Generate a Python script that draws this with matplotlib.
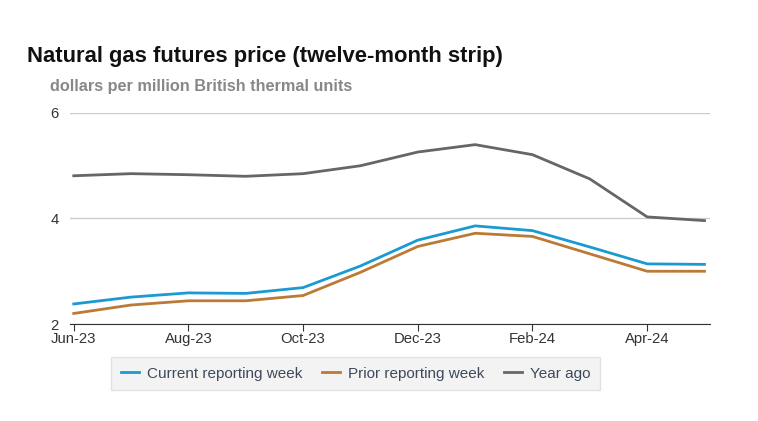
import matplotlib
matplotlib.use('Agg')
import matplotlib.pyplot as plt
import numpy as np

# Data (twelve-month strip, $/MMBtu)
months = ['Jun-23', 'Jul-23', 'Aug-23', 'Sep-23', 'Oct-23', 'Nov-23',
          'Dec-23', 'Jan-24', 'Feb-24', 'Mar-24', 'Apr-24', 'May-24']
current_week = [2.38, 2.51, 2.59, 2.58, 2.69, 3.10, 3.59, 3.86, 3.77, 3.46, 3.14, 3.13]
prior_week = [2.20, 2.36, 2.44, 2.44, 2.54, 2.98, 3.47, 3.72, 3.66, 3.33, 3.00, 3.00]
year_ago = [4.81, 4.85, 4.83, 4.80, 4.85, 5.00, 5.26, 5.40, 5.21, 4.75, 4.03, 3.96]
series_names = ['Current reporting week', 'Prior reporting week', 'Year ago']
y_ticks = [2, 4, 6]

plt.rcParams['font.family'] = ['Liberation Sans', 'DejaVu Sans']

fig = plt.figure(figsize=(7.58, 4.21), dpi=100)
ax = fig.add_axes([0.092, 0.2304, 0.845, 0.5012])

x = np.arange(len(months))
ax.plot(x, current_week, color='#1b9ad2', lw=2, label=series_names[0])
ax.plot(x, prior_week, color='#bb7a35', lw=2, label=series_names[1])
ax.plot(x, year_ago, color='#666666', lw=2, label=series_names[2])

ax.set_xlim(-0.07, 11.1)
ax.set_ylim(2, 6)
ax.set_yticks(y_ticks)
ax.set_xticks(x[::2])
ax.set_xticklabels(months[::2])
ax.grid(axis='y', color='#cccccc', lw=1)
ax.set_axisbelow(True)
for s in ['top', 'right', 'left']:
    ax.spines[s].set_visible(False)
ax.spines['bottom'].set_color('#333333')
ax.tick_params(axis='y', length=0, labelsize=10.7, labelcolor='#333333', pad=8)
ax.tick_params(axis='x', length=5, color='#333333', labelsize=10.7, labelcolor='#333333', pad=1)

fig.text(0.036, 0.865, 'Natural gas futures price (twelve-month strip)',
         fontsize=15.8, fontweight='bold', color='#111111', va='center')
fig.text(0.066, 0.795, 'dollars per million British thermal units',
         fontsize=11.7, fontweight='bold', color='#888888', va='center')

leg = fig.legend(loc='center', bbox_to_anchor=(0.469, 0.1125), ncol=3, frameon=True,
                 fontsize=11, handlelength=1.2, handletextpad=0.5, columnspacing=1.3,
                 fancybox=False, borderpad=0.62)
leg.get_frame().set_facecolor('#f1f1f1')
leg.get_frame().set_edgecolor('#dddddd')
for t in leg.get_texts():
    t.set_color('#3d4a5a')

fig.savefig('out.png', dpi=100)
